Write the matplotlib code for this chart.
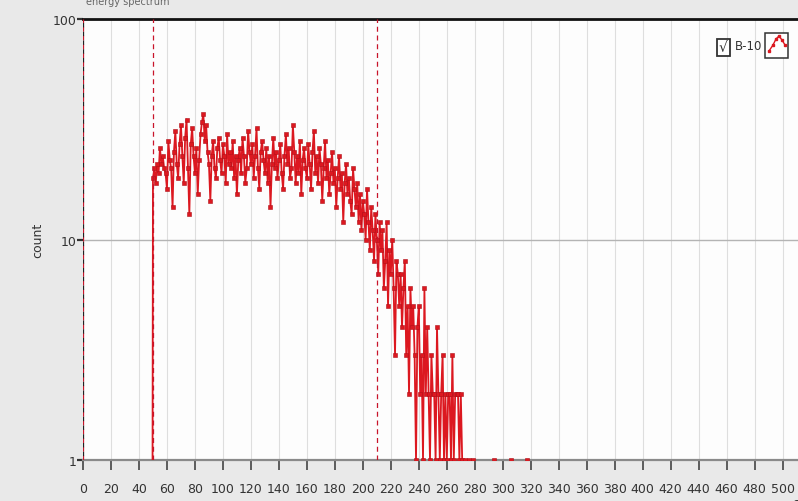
"""
plot.py - B-10 energy spectrum (count per channel, log scale)
"""

import matplotlib
matplotlib.use("Agg")
import matplotlib.pyplot as plt
from matplotlib.patches import Rectangle
from matplotlib.lines import Line2D
import numpy as np

BG       = "#e9e9e9"
PLOT_BG  = "#fdfdfd"
RED      = "#dc1820"
GRID     = "#dedede"
FONT     = dict(family="DejaVu Sans")

# ── data: counts per channel, starting at channel 49 ─────────────────────────
start_channel = 49
counts = [
    0,
    19, 21, 18, 22, 20, 26, 22, 24, 21, 20,
    17, 28, 23, 21, 14, 25, 31, 22, 19, 27,
    33, 24, 18, 29, 35, 21, 13, 27, 32, 24,
    20, 26, 16, 23, 30, 34, 37, 28, 33, 25,
    22, 15, 24, 28, 21, 19, 26, 29, 23, 20,
    27, 24, 18, 30, 22, 25, 21, 28, 19, 24,
    16, 23, 26, 20, 29, 24, 18, 21, 31, 25,
    22, 27, 19, 24, 32, 21, 17, 25, 28, 23,
    20, 26, 18, 24, 14, 22, 29, 21, 25, 19,
    23, 27, 20, 17, 24, 30, 22, 26, 19, 21,
    33, 25, 18, 24, 20, 28, 16, 23, 26, 21,
    19, 27, 22, 17, 25, 31, 20, 24, 18, 26,
    22, 15, 21, 28, 19, 23, 16, 20, 25, 18,
    21, 14, 19, 24, 17, 20, 12, 18, 22, 16,
    19, 15, 13, 21, 17, 14, 18, 12, 16, 11,
    15, 13, 10, 17, 12, 9, 14, 11, 8, 13,
    10, 7, 12, 9, 11, 6, 8, 12, 5, 9,
    7, 10, 6, 3, 8, 7, 5, 7, 4, 6,
    8, 3, 5, 2, 6, 4, 5, 3, 1, 4,
    5, 2, 3, 1, 6, 2, 4, 2, 1, 3,
    2, 2, 1, 4, 2, 1, 2, 3, 1, 2,
    1, 2, 2, 1, 3, 1, 2, 2, 2, 1,
    2, 1, 0, 1, 0, 0, 1, 0, 0, 1,
    0, 0, 0, 0, 0, 0, 0, 0, 0, 0,
    0, 0, 0, 0, 1, 0, 0, 0, 0, 0,
    0, 0, 0, 0, 0, 0, 1, 0, 0, 0,
    0, 0, 0, 0, 0, 0, 0, 1, 0, 0,
]
channels = np.arange(start_channel, start_channel + len(counts))

cursor_positions = [0, 50, 210]
x_ticks = list(range(0, 501, 20))
y_ticks = [1, 10, 100]
y_tick_labels = ["1", "10", "100"]

# ── figure ────────────────────────────────────────────────────────────────────
fig = plt.figure(figsize=(7.98, 5.02), dpi=100, facecolor=BG)
ax = fig.add_axes([83 / 798, 41 / 502, 1 - 83 / 798, 441 / 502], facecolor=PLOT_BG)

ax.set_yscale("log", nonpositive="clip")
ax.set_ylim(1, 100)
ax.set_xlim(0, 511)

for x in x_ticks:
    ax.axvline(x, color=GRID, linewidth=0.8, zorder=0)
ax.axhline(10, color="#b4b4b4", linewidth=1.0, zorder=0)

y = np.array(counts, dtype=float)
y[y <= 0] = 1e-3
ax.plot(channels, y, color=RED, linewidth=1.3, marker="s", markersize=3.0,
        markerfacecolor=RED, markeredgecolor="#b01018", markeredgewidth=0.4,
        zorder=3, clip_on=True)

for cx in cursor_positions:
    ax.axvline(cx, color="#c8142a", linewidth=0.9, linestyle=(0, (4, 3)), zorder=4)
ax.axvline(0, color="#222222", linewidth=0.9, linestyle=(3.5, (3.5, 3.5)), zorder=4)

ax.set_xticks(x_ticks)
ax.set_xticklabels([str(t) for t in x_ticks], fontsize=9, color="#333333", **FONT)
ax.set_yticks(y_ticks)
ax.set_yticklabels(y_tick_labels, fontsize=9, color="#333333", **FONT)
ax.yaxis.set_minor_locator(matplotlib.ticker.NullLocator())
ax.tick_params(axis="x", direction="out", length=7, width=1.2, color="#444444", pad=9)
ax.tick_params(axis="y", direction="out", length=4, width=1.6, color="#333333", pad=1)

ax.spines["top"].set_color("#111111")
ax.spines["top"].set_linewidth(2.0)
ax.spines["bottom"].set_color("#8a8a8a")
ax.spines["bottom"].set_linewidth(1.6)
ax.spines["left"].set_visible(False)
ax.spines["right"].set_visible(False)

ax.set_ylabel("count", fontsize=9, color="#333333", labelpad=6, **FONT)
# axis name sits past the right edge of the panel; only its start shows
ax.text(507, 0.63, "Samples", fontsize=9, color="#333333", ha="left", va="center",
        clip_on=False, **FONT)

# title, mostly cut off by the top edge
fig.text(86 / 798, 1 - 2 / 502, "energy spectrum", fontsize=7, color="#666666",
         ha="left", va="center", **FONT)

# legend: checkbox, name, plot-style glyph
fig.patches.append(Rectangle((717 / 798, 1 - 57 / 502), 13 / 798, 17 / 502,
                             transform=fig.transFigure, facecolor="white",
                             edgecolor="#333333", linewidth=1.3))
fig.text(723.5 / 798, 1 - 48 / 502, "√", fontsize=10, color="#333333",
         ha="center", va="center", **FONT)
fig.text(735 / 798, 1 - 46 / 502, "B-10", fontsize=8.5, color="#333333",
         ha="left", va="center", **FONT)
fig.patches.append(Rectangle((765 / 798, 1 - 59 / 502), 23 / 798, 25 / 502,
                             transform=fig.transFigure, facecolor="white",
                             edgecolor="#333333", linewidth=1.1))
icon_x = np.array([769, 773, 776, 779, 782, 785]) / 798
icon_y = 1 - np.array([52, 46, 40, 37, 41, 46]) / 502
fig.lines.append(Line2D(icon_x, icon_y, transform=fig.transFigure,
                        color=RED, linewidth=1.0, marker="s", markersize=1.8))

fig.savefig("out.png", dpi=100, facecolor=BG)
